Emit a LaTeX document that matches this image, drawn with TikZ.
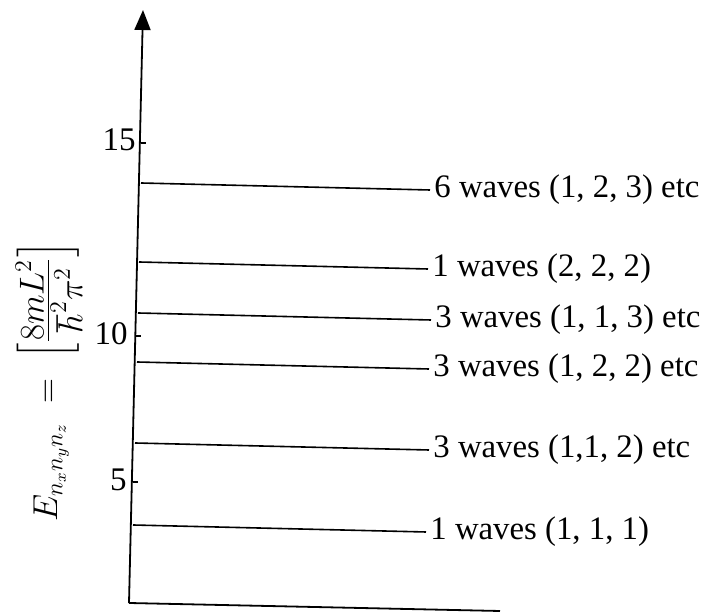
\documentclass[tikz,border=0pt]{standalone}
\usepackage{amsmath}
\usepackage{fontspec}
\setmainfont{Liberation Serif}
\usetikzlibrary{arrows.meta}
\begin{document}
\begin{tikzpicture}[x=0.5pt,y=-0.5pt,
  axis/.style={line width=0.9pt},
  level/.style={line width=0.8pt},
  lbl/.style={anchor=west,inner sep=0pt,font=\fontsize{16.4}{19}\selectfont},
  ticklbl/.style={anchor=east,inner sep=0pt,font=\fontsize{16.5}{19}\selectfont}]
\useasboundingbox (0,0) rectangle (719,614);
% axes
\coordinate (O) at (129,603);
\coordinate (top) at (143,10);
\coordinate (xend) at (500,611);
\draw[axis,-{Triangle[length=10pt,width=8pt]}] (O) -- (top);
\draw[axis] (O) -- (xend);
% ticks
\coordinate (t15) at (141,143);
\coordinate (t10) at (136,336);
\coordinate (t5) at (133,482);
\draw[axis] (t15) -- ++(5,0);
\draw[axis] (t10) -- ++(5,0);
\draw[axis] (t5) -- ++(5,0);
\node[ticklbl] (n15) at (136,140) {15};
\node[ticklbl] (n10) at (128,334) {10};
\node[ticklbl] (n5) at (127,480) {5};
% levels
\coordinate (a1) at (141,183);
\coordinate (a2) at (139,262);
\coordinate (a3) at (138,313);
\coordinate (a4) at (137,362);
\coordinate (a5) at (135,443);
\coordinate (a6) at (133,525);
\node[lbl] (b1) at (434,190) {6 waves (1, 2, 3) etc};
\node[lbl] (b2) at (432,269) {1 waves (2, 2, 2)};
\node[lbl] (b3) at (435,320) {3 waves (1, 1, 3) etc};
\node[lbl] (b4) at (433,369) {3 waves (1, 2, 2) etc};
\node[lbl] (b5) at (433,450) {3 waves (1,1, 2) etc};
\node[lbl] (b6) at (430,532) {1 waves (1, 1, 1)};
\foreach \i in {1,...,6}{
  \draw[level] (a\i) -- ([xshift=-2pt]b\i.west);
}
% y label
\node[rotate=90,inner sep=0pt,font=\fontsize{17}{20}\selectfont] (ylab) at (49,381)
  {$E_{n_x n_y n_z} \;=\; \left[\frac{\textstyle 8mL^2}{\textstyle\hbar^2\pi^2}\right]$};
\end{tikzpicture}
\end{document}
